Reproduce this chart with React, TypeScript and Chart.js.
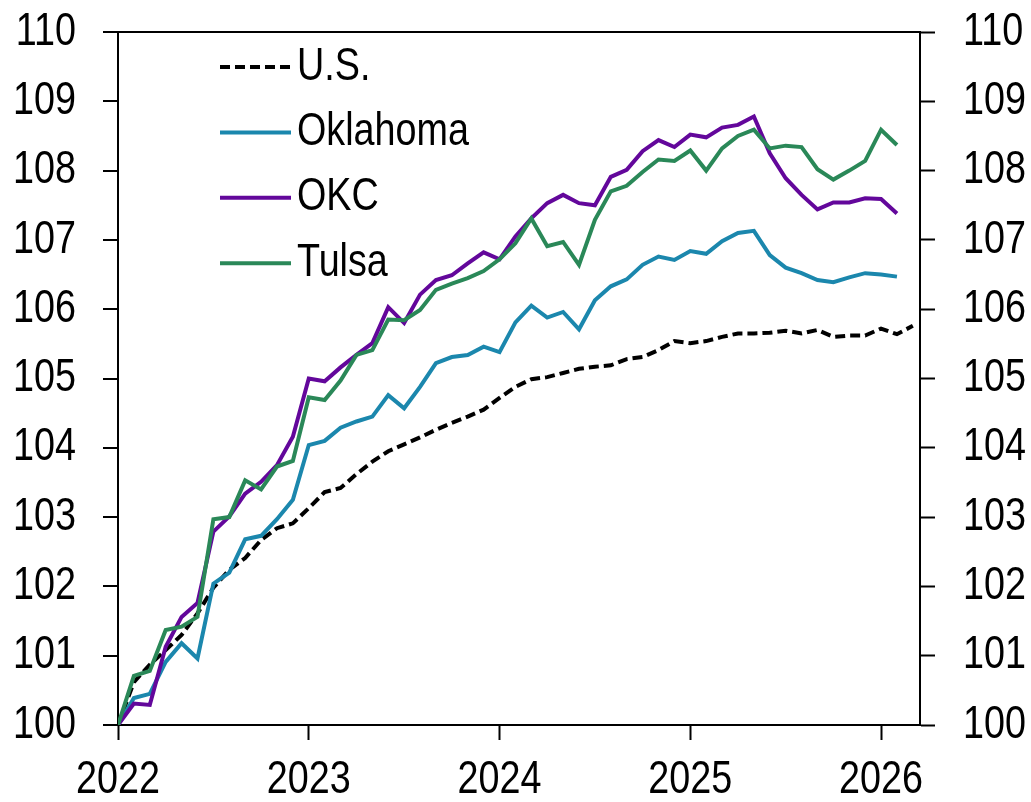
import React, { useEffect, useRef } from "react";
import { Chart, registerables } from "chart.js";

Chart.register(...registerables);

// Monthly index values, Jan 2022 = 100 (index 0 = Jan 2022)
const US = [
  100, 100.62, 100.87, 101.08, 101.3, 101.61, 101.98, 102.24, 102.41, 102.67, 102.84, 102.91,
  103.13, 103.36, 103.42, 103.62, 103.8, 103.95, 104.05, 104.15, 104.26, 104.36, 104.45, 104.55,
  104.72, 104.88, 104.99, 105.02, 105.08, 105.14, 105.17, 105.19, 105.28, 105.31, 105.41, 105.54,
  105.51, 105.54, 105.6, 105.65, 105.65, 105.66, 105.69, 105.65, 105.7, 105.6, 105.62, 105.62,
  105.72, 105.64, 105.76,
];
const OKLAHOMA = [
  100, 100.39, 100.45, 100.91, 101.18, 100.96, 102.04, 102.2, 102.68, 102.73, 102.97, 103.25,
  104.04, 104.1, 104.29, 104.38, 104.45, 104.76, 104.57, 104.88, 105.22, 105.31, 105.34, 105.46,
  105.38, 105.81, 106.05, 105.88, 105.96, 105.71, 106.13, 106.33, 106.43, 106.64, 106.76, 106.71,
  106.84, 106.8, 106.98, 107.1, 107.13, 106.78, 106.6, 106.52, 106.42, 106.39, 106.46, 106.52,
  106.5, 106.47,
];
const OKC = [
  100, 100.31, 100.29, 101.13, 101.56, 101.76, 102.79, 103.01, 103.34, 103.51, 103.75, 104.16,
  105.0, 104.96, 105.16, 105.34, 105.51, 106.03, 105.8, 106.21, 106.42, 106.49, 106.66, 106.82,
  106.72, 107.05, 107.31, 107.53, 107.65, 107.53, 107.5, 107.91, 108.01, 108.28, 108.44, 108.34,
  108.52, 108.48, 108.62, 108.66, 108.78, 108.25, 107.89, 107.65, 107.44, 107.54, 107.54, 107.6,
  107.59, 107.38,
];
const TULSA = [
  100, 100.71, 100.78, 101.37, 101.42, 101.56, 102.97, 103.0, 103.53, 103.4, 103.73, 103.81,
  104.73, 104.69, 104.97, 105.34, 105.41, 105.85, 105.84, 105.99, 106.28, 106.37, 106.45, 106.55,
  106.72, 106.95, 107.31, 106.91, 106.97, 106.64, 107.29, 107.7, 107.78, 107.98, 108.16, 108.14,
  108.29, 108.0, 108.32, 108.5, 108.59, 108.32, 108.36, 108.34, 108.02, 107.87, 108.0, 108.14,
  108.59, 108.37,
];

const START_YEAR = 2022;
const YEAR_TICKS = [0, 12, 24, 36, 48]; // months since Jan 2022
const X_MAX = 50.45;
const Y_MIN = 100;
const Y_MAX = 110;

const FONT_FAMILY = '"Liberation Sans", Arial, sans-serif';
const FONT_SIZE = 46;
const NARROW = 0.82; // horizontal squeeze to mimic a narrow sans face

const yearLabel = (v: number) => String(START_YEAR + Math.round(v / 12));

function narrowText(ctx: any, text: string, x: number, y: number, align: string) {
  ctx.save();
  ctx.translate(x, y);
  ctx.scale(NARROW, 1);
  ctx.textAlign = align;
  ctx.textBaseline = "middle";
  ctx.fillText(text, 0, 0);
  ctx.restore();
}

const labelPlugin = {
  id: "narrowLabels",
  afterDraw(chart: any) {
    const { ctx, chartArea, scales } = chart;
    ctx.save();
    ctx.fillStyle = "#000";
    ctx.font = `${FONT_SIZE}px ${FONT_FAMILY}`;
    // left axis labels
    scales.y.ticks.forEach((t: any) => {
      narrowText(ctx, String(t.value), chartArea.left - 42, scales.y.getPixelForValue(t.value), "right");
    });
    // right axis labels
    scales.y2.ticks.forEach((t: any) => {
      narrowText(ctx, String(t.value), chartArea.right + 43, scales.y2.getPixelForValue(t.value), "left");
    });
    // x labels
    scales.x.ticks.forEach((t: any) => {
      narrowText(ctx, yearLabel(t.value), scales.x.getPixelForValue(t.value), chartArea.bottom + 55, "center");
    });
    // legend inside plot area
    chart.data.datasets.forEach((ds: any, k: number) => {
      const y = chartArea.top + 35 + k * 65.4;
      ctx.beginPath();
      ctx.setLineDash(ds.borderDash || []);
      ctx.strokeStyle = ds.borderColor;
      ctx.lineWidth = 4;
      ctx.moveTo(chartArea.left + 102, y);
      ctx.lineTo(chartArea.left + 173, y);
      ctx.stroke();
      ctx.setLineDash([]);
      narrowText(ctx, ds.label, chartArea.left + 179, y, "left");
    });
    ctx.restore();
  },
};

export default function App() {
  const ref = useRef<HTMLCanvasElement | null>(null);

  useEffect(() => {
    document.body.style.margin = "0";
    const canvas = ref.current;
    if (!canvas) return;
    const chart = new Chart(canvas, {
      type: "line",
      data: {
        datasets: [
          {
            label: "U.S.",
            data: US.map((v, i) => ({ x: i, y: v })),
            borderColor: "#000000",
            borderDash: [10, 5],
            borderWidth: 4,
            pointRadius: 0,
            tension: 0,
            order: 4,
          },
          {
            label: "Oklahoma",
            data: OKLAHOMA.map((v, i) => ({ x: i, y: v })),
            borderColor: "#1B87AD",
            borderWidth: 4,
            pointRadius: 0,
            tension: 0,
            order: 3,
          },
          {
            label: "OKC",
            data: OKC.map((v, i) => ({ x: i, y: v })),
            borderColor: "#63079B",
            borderWidth: 4,
            pointRadius: 0,
            tension: 0,
            order: 2,
          },
          {
            label: "Tulsa",
            data: TULSA.map((v, i) => ({ x: i, y: v })),
            borderColor: "#2A8858",
            borderWidth: 4,
            pointRadius: 0,
            tension: 0,
            order: 1,
          },
        ],
      },
      options: {
        responsive: false,
        animation: false,
        layout: { padding: { top: 32, left: 0, right: 0, bottom: 0 } },
        plugins: {
          legend: { display: false },
          tooltip: { enabled: false },
        },
        scales: {
          x: {
            type: "linear",
            min: 0,
            max: X_MAX,
            afterBuildTicks: (s: any) => {
              s.ticks = YEAR_TICKS.map((v) => ({ value: v }));
            },
            afterFit: (s: any) => {
              s.height = 77;
            },
            border: { display: true, color: "#000", width: 2 },
            grid: {
              drawOnChartArea: false,
              drawTicks: true,
              tickLength: 15,
              tickColor: "#000",
              tickWidth: 2,
            },
            ticks: { display: false, autoSkip: false },
          },
          y: {
            position: "left",
            min: Y_MIN,
            max: Y_MAX,
            afterFit: (s: any) => {
              s.width = 118;
            },
            border: { display: true, color: "#000", width: 2 },
            grid: {
              drawOnChartArea: true,
              color: (c: any) => (c.tick && c.tick.value === Y_MAX ? "#000" : "rgba(0,0,0,0)"),
              lineWidth: 2,
              drawTicks: true,
              tickLength: 15,
              tickColor: "#000",
              tickWidth: 2,
            },
            ticks: { display: false, stepSize: 1 },
          },
          y2: {
            position: "right",
            min: Y_MIN,
            max: Y_MAX,
            afterFit: (s: any) => {
              s.width = 111;
            },
            border: { display: true, color: "#000", width: 2 },
            grid: {
              drawOnChartArea: false,
              drawTicks: true,
              tickLength: 15,
              tickColor: "#000",
              tickWidth: 2,
            },
            ticks: { display: false, stepSize: 1 },
          },
        },
      },
      plugins: [labelPlugin],
    });
    return () => chart.destroy();
  }, []);

  return (
    <div style={{ width: 1031, height: 802, background: "#fff" }}>
      <canvas ref={ref} width={1031} height={802} style={{ display: "block" }} />
    </div>
  );
}
